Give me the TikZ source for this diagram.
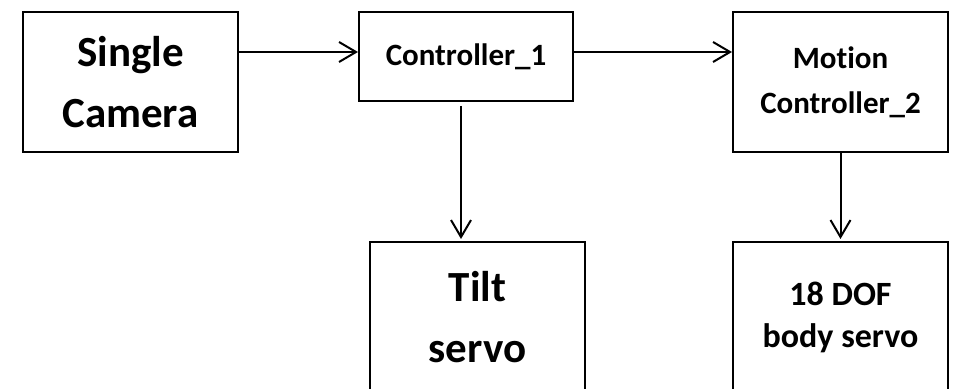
\documentclass[tikz,border=0pt]{standalone}
\usepackage{fontspec}
\setmainfont{Carlito}[Ligatures={NoCommon}]
\usetikzlibrary{arrows.meta}

\begin{document}
\begin{tikzpicture}[x=1pt,y=1pt,
  blk/.style={draw,line width=2pt,inner sep=0pt,align=center,minimum width=215pt},
  big/.style={font=\fontsize{43}{61}\selectfont\bfseries},
  mid/.style={font=\fontsize{31}{45}\selectfont\bfseries},
  arr/.style={line width=2pt,-{Straight Barb[length=17pt,width=20pt]}}]
\useasboundingbox (0,0) rectangle (960,388);
\fill[white] (0,0) rectangle (960,388);

\node[blk,big,minimum height=140pt] (cam) at (130.5,306) {Single\\Camera};
\node[blk,mid,minimum width=214pt,minimum height=89pt] (ctrl) at (466,331.5) {Controller\_1};
\node[blk,mid,minimum height=140pt] (mc) at (840.5,306) {Motion\\Controller\_2};
\node[blk,big,minimum height=150pt] (tilt) at (477.5,71) {Tilt\\servo};
\node[blk,font=\fontsize{34}{42}\selectfont\bfseries,minimum height=150pt] (dof) at (840.5,71) {18 DOF\\body servo};

\draw[arr] (cam.east |- ctrl.west) ++(0,4.5) -- ([yshift=4.5pt]ctrl.west);
\draw[arr] ([yshift=4.5pt]ctrl.east) -- ([yshift=4.5pt]mc.west |- ctrl.west);
\draw[arr] ([xshift=-5pt,yshift=-4pt]ctrl.south) -- ([xshift=-5pt,yshift=2pt]ctrl.south |- tilt.north);
\draw[arr] (mc.south) -- ([yshift=2pt]mc.south |- dof.north);

\end{tikzpicture}
\end{document}
